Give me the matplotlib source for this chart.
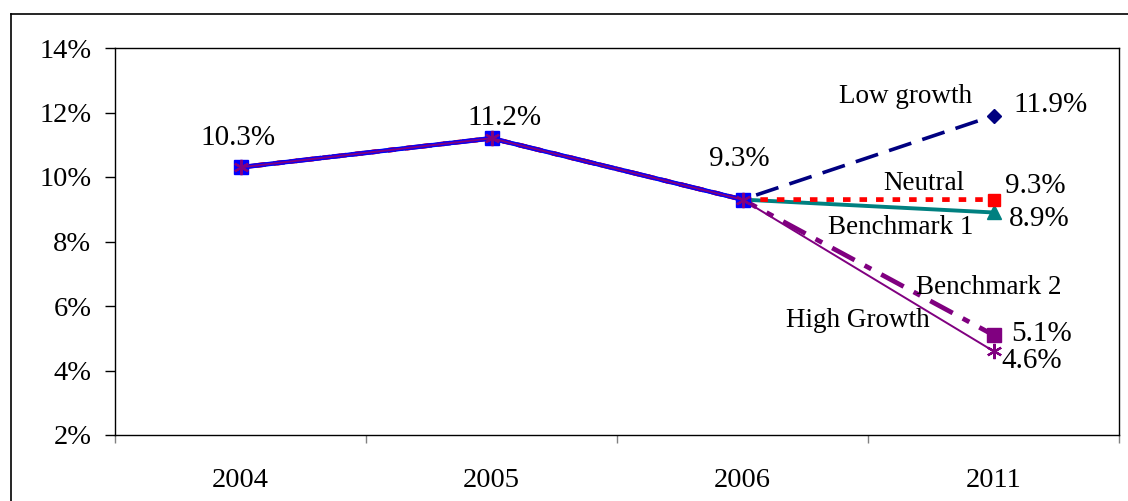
import matplotlib
matplotlib.use("Agg")
import matplotlib.pyplot as plt
from matplotlib.lines import Line2D

plt.rcParams['font.family'] = ['Liberation Serif', 'DejaVu Serif']

# data
years = ["2004", "2005", "2006", "2011"]
history = [10.3, 11.2, 9.3]
low_growth = history + [11.9]
neutral = history + [9.3]
benchmark1 = history + [8.9]
benchmark2 = history + [5.1]
high_growth = history + [4.6]
yticks = [2, 4, 6, 8, 10, 12, 14]

W, H = 1128, 501
fig = plt.figure(figsize=(W / 100, H / 100), dpi=100)
ax = fig.add_axes([115 / W, 1 - 435 / H, (1119 - 115) / W, (435 - 48) / H])

x = list(range(len(years)))
xh = list(range(len(history)))

# scenario lines (markers only at 2011)
ax.plot(x, low_growth, color="#000080", lw=2.6, dashes=(6.5, 3.2),
        marker="D", ms=7, markevery=[3], zorder=2)
ax.plot(x, benchmark1, color="#008080", lw=2.8,
        marker="^", ms=10, markevery=[3], zorder=2)
ax.plot(x, benchmark2, color="#800080", lw=3.4, dashes=(5.4, 2.4, 1.6, 2.4),
        dash_capstyle="butt", marker="s", ms=10, markevery=[3], zorder=2)
ax.plot(x, neutral, color="#FF0000", lw=3.4, dashes=(1.6, 1.9),
        dash_capstyle="butt", marker="s", ms=9, markevery=[3], zorder=3)
# history
ax.plot(xh, history, color="#0000FF", lw=3.2, marker="s", ms=10.5, zorder=4)
ax.plot(x, high_growth, color="#800080", lw=1.4,
        marker=(6, 2, 0), ms=11, mew=1.6, zorder=5)

# value labels
fs_val, fs_name, fs_tick = 21, 19.5, 20.5
hist_offsets = [(-1.5, 21), (9, 14.5), (-2, 29)]
for i, v in enumerate(history):
    ax.annotate(f"{v:.1f}%", (xh[i], v), xytext=hist_offsets[i],
                textcoords="offset points", ha="center", va="center", fontsize=fs_val)

end_vals = [low_growth[-1], neutral[-1], benchmark1[-1], benchmark2[-1], high_growth[-1]]
end_offsets = [(14, 8), (8, 10), (11, -4.5), (12.5, 1), (6, -7)]
for v, off in zip(end_vals, end_offsets):
    ax.annotate(f"{v:.1f}%", (x[-1], v), xytext=off,
                textcoords="offset points", ha="left", va="center", fontsize=fs_val)

names = ["Low growth", "Neutral", "Benchmark 1", "Benchmark 2", "High Growth"]
name_offsets = [(-63, 14), (-50, 11.5), (-67, -11), (-3.5, 34.5), (-98, 22)]
for n, v, off in zip(names, end_vals, name_offsets):
    ax.annotate(n, (x[-1], v), xytext=off, textcoords="offset points",
                ha="center", va="center", fontsize=fs_name)

# axes
ax.set_xlim(-0.5, 3.5)
ax.set_ylim(2, 14)
ax.set_yticks(yticks)
ax.set_yticklabels([f"{t}%" for t in yticks], fontsize=fs_tick)
ax.tick_params(axis="y", direction="out", length=7, width=1, pad=10)
ax.set_xticks([-0.5, 0.5, 1.5, 2.5, 3.5])
ax.set_xticklabels([])
ax.set_xticks(x, minor=True)
ax.set_xticklabels(years, minor=True, fontsize=fs_tick)
ax.tick_params(axis="x", which="major", direction="out", length=6, width=1, color="#808080")
ax.tick_params(axis="x", which="minor", length=0, pad=24)
for s in ax.spines.values():
    s.set_linewidth(1.0)
    s.set_color("black")

# outer chart frame
fx, fy = 11 / W, 1 - 14 / H
fig.add_artist(Line2D([fx, fx], [0, fy], transform=fig.transFigure, color="black", lw=1.2))
fig.add_artist(Line2D([fx, 1], [fy, fy], transform=fig.transFigure, color="black", lw=1.2))

fig.savefig("out.png", dpi=100)
